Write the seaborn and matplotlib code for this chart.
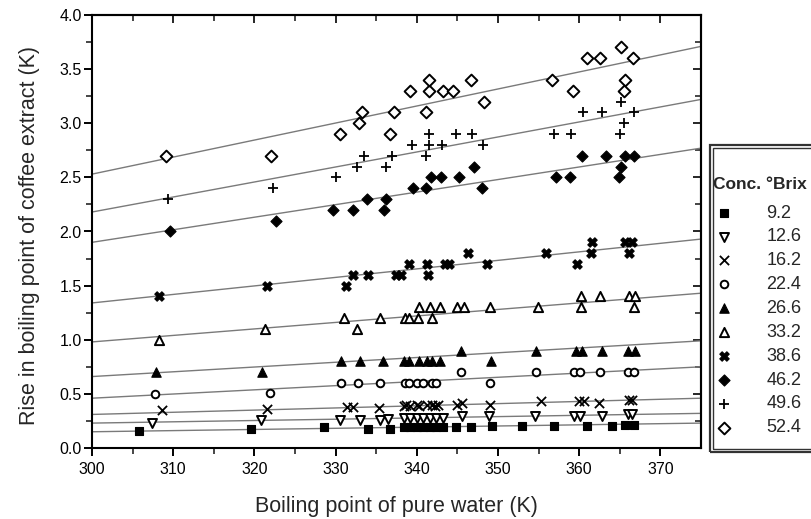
import matplotlib
matplotlib.use("Agg")
import matplotlib.pyplot as plt
from matplotlib.patches import Rectangle
import numpy as np
import seaborn as sns

# =============================================================================
# Data
# =============================================================================

brix = ["9.2", "12.6", "16.2", "22.4", "26.6", "33.2", "38.6", "46.2", "49.6", "52.4"]

x_92 = [305.8, 319.6, 328.6, 334.0, 336.7, 338.4, 339.2, 340.0, 340.8, 341.6, 342.4,
        343.2, 344.8, 346.7, 349.2, 352.9, 356.9, 361.0, 364.1, 365.7, 366.7]
y_92 = [0.16, 0.18, 0.19, 0.18, 0.18, 0.19, 0.19, 0.19, 0.19, 0.19, 0.19,
        0.19, 0.19, 0.19, 0.20, 0.20, 0.20, 0.20, 0.20, 0.21, 0.21]

x_126 = [307.4, 320.8, 330.5, 333.0, 335.5, 336.5, 338.4, 339.2, 340.0, 340.8, 341.6,
         342.4, 343.2, 345.6, 348.9, 354.5, 359.3, 360.1, 362.8, 366.0, 366.5]
y_126 = [0.23, 0.26, 0.26, 0.26, 0.26, 0.27, 0.28, 0.28, 0.28, 0.28, 0.28,
         0.28, 0.28, 0.30, 0.30, 0.30, 0.30, 0.30, 0.30, 0.31, 0.31]

x_162 = [308.6, 321.5, 331.4, 332.1, 335.4, 338.4, 338.7, 339.2, 340.0, 340.3, 341.3,
         341.9, 342.3, 342.6, 345.0, 345.6, 349.0, 355.3, 360.0, 360.6, 362.4, 366.1, 366.5]
y_162 = [0.35, 0.36, 0.38, 0.38, 0.37, 0.39, 0.40, 0.39, 0.40, 0.39, 0.40,
         0.40, 0.39, 0.40, 0.40, 0.42, 0.40, 0.43, 0.43, 0.43, 0.42, 0.44, 0.44]

x_224 = [307.8, 321.9, 330.7, 332.7, 335.5, 338.5, 339.0, 340.0, 340.8, 341.9, 342.4,
         345.4, 349.0, 354.7, 359.3, 360.1, 362.6, 366.0, 366.7]
y_224 = [0.50, 0.51, 0.60, 0.60, 0.60, 0.60, 0.60, 0.60, 0.60, 0.60, 0.60,
         0.70, 0.60, 0.70, 0.70, 0.70, 0.70, 0.70, 0.70]

x_266 = [307.9, 320.9, 330.7, 333.0, 335.8, 338.4, 339.0, 340.3, 341.3, 341.9, 342.9,
         345.4, 349.1, 354.7, 359.6, 360.4, 362.8, 366.0, 366.9]
y_266 = [0.70, 0.70, 0.80, 0.80, 0.80, 0.80, 0.80, 0.80, 0.80, 0.80, 0.80,
         0.90, 0.80, 0.90, 0.90, 0.90, 0.90, 0.90, 0.90]

x_332 = [308.3, 321.3, 331.0, 332.6, 335.5, 338.6, 339.0, 340.1, 340.3, 341.6, 341.9,
         342.8, 345.0, 345.8, 349.0, 354.9, 360.2, 360.2, 362.6, 366.1, 366.7, 366.9]
y_332 = [1.00, 1.10, 1.20, 1.10, 1.20, 1.20, 1.20, 1.20, 1.30, 1.30, 1.20,
         1.30, 1.30, 1.30, 1.30, 1.30, 1.40, 1.30, 1.40, 1.40, 1.30, 1.40]

x_386 = [308.3, 321.6, 331.3, 332.2, 334.0, 337.4, 338.0, 339.0, 341.2, 341.4, 343.5,
         344.0, 346.3, 348.7, 355.9, 359.7, 361.4, 361.6, 365.7, 366.1, 366.5]
y_386 = [1.40, 1.50, 1.50, 1.60, 1.60, 1.60, 1.60, 1.70, 1.70, 1.60, 1.70,
         1.70, 1.80, 1.70, 1.80, 1.70, 1.80, 1.90, 1.90, 1.80, 1.90]

x_462 = [309.6, 322.6, 329.7, 332.2, 333.9, 336.2, 336.0, 339.5, 341.1, 341.8, 343.0,
         345.2, 347.0, 348.0, 357.2, 358.9, 360.3, 363.3, 364.9, 365.1, 365.7, 366.7]
y_462 = [2.00, 2.10, 2.20, 2.20, 2.30, 2.30, 2.20, 2.40, 2.40, 2.50, 2.50,
         2.50, 2.60, 2.40, 2.50, 2.50, 2.70, 2.70, 2.50, 2.60, 2.70, 2.70]

x_496 = [309.3, 322.3, 330.0, 332.6, 333.5, 336.2, 337.0, 339.4, 341.1, 341.5, 341.5,
         343.1, 344.8, 346.8, 348.1, 356.9, 359.0, 360.5, 362.8, 365.1, 365.5, 365.0, 366.7]
y_496 = [2.30, 2.40, 2.50, 2.60, 2.70, 2.60, 2.70, 2.80, 2.70, 2.80, 2.90,
         2.80, 2.90, 2.90, 2.80, 2.90, 2.90, 3.10, 3.10, 3.20, 3.00, 2.90, 3.10]

x_524 = [309.1, 322.1, 330.5, 332.9, 333.2, 336.7, 337.2, 339.2, 341.1, 341.5, 341.5,
         343.2, 344.5, 346.7, 348.3, 356.6, 359.2, 360.9, 362.5, 365.1, 366.6, 365.6, 365.5]
y_524 = [2.70, 2.70, 2.90, 3.00, 3.10, 2.90, 3.10, 3.30, 3.10, 3.30, 3.40,
         3.30, 3.30, 3.40, 3.20, 3.40, 3.30, 3.60, 3.60, 3.70, 3.60, 3.40, 3.30]

# fitted lines, value at x = 300 and x = 375
fit_x = [300, 375]
fit_y0 = [0.15, 0.23, 0.31, 0.46, 0.66, 0.98, 1.34, 1.90, 2.18, 2.53]
fit_y1 = [0.23, 0.32, 0.46, 0.75, 0.99, 1.43, 1.93, 2.77, 3.22, 3.71]

xs = [x_92, x_126, x_162, x_224, x_266, x_332, x_386, x_462, x_496, x_524]
ys = [y_92, y_126, y_162, y_224, y_266, y_332, y_386, y_462, y_496, y_524]

# marker, filled, size
markers = ["s", "v", "x", "o", "^", "^", "X", "D", "+", "D"]
filled = [True, False, None, False, True, False, True, True, None, False]
sizes = [32, 42, 44, 30, 46, 44, 46, 32, 50, 36]

# =============================================================================
# Plot
# =============================================================================

sns.set_style("ticks")
plt.rcParams["font.family"] = ["Liberation Sans", "DejaVu Sans"]

fig = plt.figure(figsize=(8.12, 5.19), dpi=100)
W, H = 812, 519
ax = fig.add_axes([92 / W, 71 / H, 609 / W, 433 / H])

for i in range(len(brix)):
    ax.plot(fit_x, [fit_y0[i], fit_y1[i]], color="#7a7a7a", lw=1.0, zorder=1)

for i, lab in enumerate(brix):
    kw = dict(x=xs[i], y=ys[i], marker=markers[i], s=sizes[i], ax=ax,
              label=lab, zorder=3)
    if filled[i] is None:
        sns.scatterplot(color="black", linewidth=1.3, **kw)
    elif filled[i]:
        sns.scatterplot(color="black", edgecolor="black", linewidth=0.8, **kw)
    else:
        sns.scatterplot(facecolor="white", edgecolor="black", linewidth=1.4, **kw)

ax.set_xlim(300, 375)
ax.set_ylim(0, 4)
ax.set_xticks(np.arange(300, 371, 10))
ax.set_xticks(np.arange(305, 375, 10), minor=True)
ax.set_yticks(np.arange(0, 4.01, 0.5))
ax.set_yticks(np.arange(0.25, 4, 0.5), minor=True)
ax.set_yticklabels([f"{v:.1f}" for v in np.arange(0, 4.01, 0.5)])

ax.tick_params(which="major", direction="out", length=6, width=1.4, labelsize=11.5,
               colors="black")
ax.tick_params(which="minor", direction="out", length=4, width=1.2)
ax.tick_params(axis="x", pad=4)
ax.tick_params(axis="y", pad=1.5)
for sp in ax.spines.values():
    sp.set_linewidth(1.5)
    sp.set_color("black")

# mirrored inward ticks on top and right
top = ax.secondary_xaxis("top")
top.set_xticks(np.arange(300, 371, 10))
top.set_xticks(np.arange(305, 375, 10), minor=True)
top.tick_params(which="major", direction="in", length=6, width=1.4, labeltop=False)
top.tick_params(which="minor", direction="in", length=4, width=1.2)
top.spines["top"].set_linewidth(1.5)
right = ax.secondary_yaxis("right")
right.set_yticks(np.arange(0, 4.01, 0.5))
right.set_yticks(np.arange(0.25, 4, 0.5), minor=True)
right.tick_params(which="major", direction="in", length=6, width=1.4, labelright=False)
right.tick_params(which="minor", direction="in", length=4, width=1.2)
right.spines["right"].set_linewidth(1.5)

ax.set_xlabel("Boiling point of pure water (K)", fontsize=15.5)
ax.set_ylabel("Rise in boiling point of coffee extract (K)", fontsize=15.5)
ax.xaxis.set_label_coords(0.5, -0.11)
ax.yaxis.set_label_coords(-0.085, 0.49)

# legend box (double frame, runs off the right edge)
for off, lw in [(0, 1.6), (3, 1.0)]:
    fig.patches.append(Rectangle(((710 + off) / W, (H - 452 + off) / H),
                                 (140) / W, (307 - 2 * off) / H,
                                 transform=fig.transFigure, fill=False,
                                 edgecolor="#333333", lw=lw))

handles, labels = ax.get_legend_handles_labels()
leg = ax.legend(handles, labels, title="Conc. \u00b0Brix", loc="upper left",
                bbox_to_anchor=(713 / W, (H - 177) / H), bbox_transform=fig.transFigure,
                frameon=False, fontsize=13, labelspacing=0.38, handlelength=1.2,
                handletextpad=1.75, borderpad=0.0, borderaxespad=0.0,
                alignment="left", title_fontproperties={"weight": "bold", "size": 12.5})
leg._legend_box.sep = 9

fig.savefig("out.png", dpi=100)
